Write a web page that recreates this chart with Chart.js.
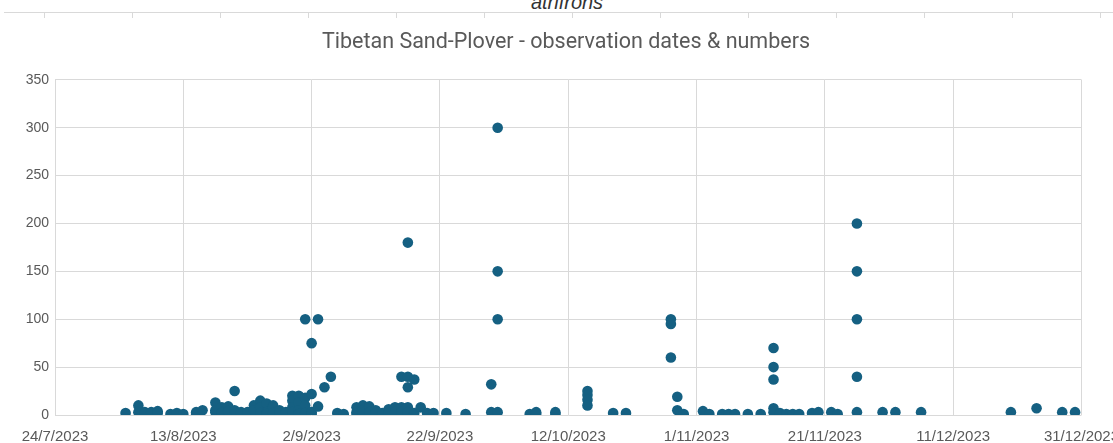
<!DOCTYPE html>
<html lang="en">
<head>
    <meta charset="UTF-8">
    <title>Tibetan Sand-Plover</title>
    <script src="https://cdn.jsdelivr.net/npm/chart.js"></script>
    <style>
        body {
            margin: 0;
            padding: 0;
            background: #ffffff;
            overflow: hidden;
            width: 1113px;
            height: 443px;
            position: relative;
            font-family: 'Liberation Sans', Arial, sans-serif;
        }
        /* bit of the chart above, cut off at the top */
        .prev-title {
            position: absolute;
            top: -8px;
            left: 0;
            width: 1134px;
            text-align: center;
            font-style: italic;
            font-size: 20px;
            line-height: 20px;
            color: #333;
        }
        .prev-axis {
            position: absolute;
            top: 12px;
            left: 4px;
            width: 1109px;
            height: 5px;
            border-top: 1px solid #d9d9d9;
            background-image: repeating-linear-gradient(to right, transparent 0, transparent 40px, #d9d9d9 40px, #d9d9d9 41px, transparent 41px, transparent 88px);
        }
        .wrap {
            position: absolute;
            top: 0;
            left: 0;
            width: 1132px;
            height: 443px;
        }
    </style>
</head>
<body>
    <div class="prev-title">atrifrons</div>
    <div class="prev-axis"></div>
    <div class="wrap"><canvas id="grafica"></canvas></div>
    <script>
        // fechas de observación (d/m, 2023) y número de aves en cada una
        const obsDates = [
            '4/8', '6/8', '7/8', '8/8', '9/8', '11/8', '12/8', '13/8', '15/8', '16/8',
            '18/8', '19/8', '20/8', '21/8', '22/8', '23/8', '24/8', '25/8', '26/8', '27/8',
            '28/8', '29/8', '30/8', '31/8', '1/9', '2/9', '3/9', '4/9', '5/9', '6/9',
            '7/9', '9/9', '10/9', '11/9', '12/9', '13/9', '14/9', '15/9', '16/9', '17/9',
            '18/9', '19/9', '20/9', '21/9', '23/9', '26/9', '30/9', '1/10', '6/10', '7/10',
            '10/10', '15/10', '19/10', '21/10', '28/10', '29/10', '30/10', '2/11', '3/11', '5/11',
            '6/11', '7/11', '9/11', '11/11', '13/11', '14/11', '15/11', '16/11', '17/11', '19/11',
            '20/11', '22/11', '23/11', '26/11', '30/11', '2/12', '6/12', '20/12', '24/12', '28/12',
            '30/12'
        ];
        const birdCounts = [
            [2], [10, 3], [3, 2], [3], [4, 2], [1], [2], [1], [3, 1], [5],
            [13, 3, 5], [8, 3, 2], [9, 4], [25, 5], [3], [3], [10, 5], [15, 8, 2], [12, 3, 1], [10, 8, 2],
            [5, 2], [3], [20, 15, 8, 3], [20, 13, 5, 1], [100, 18, 10, 2], [75, 22, 3, 1], [100, 9], [29], [40], [2],
            [1], [8, 3, 1], [10, 5, 2], [9, 3], [5, 2], [2], [6, 2], [8, 3], [40, 8, 3], [180, 40, 29, 8, 3],
            [37, 2], [8], [2], [2], [2], [1], [32, 3], [300, 150, 100, 3], [1], [3, 1],
            [3, 1], [25, 21, 16, 10], [2], [2], [100, 95, 60], [19, 5], [1], [4], [1], [1],
            [1], [1], [1], [1], [70, 50, 37, 7, 3], [2, 1], [1], [1], [1], [2],
            [3], [3], [1], [200, 150, 100, 40, 3], [3], [3], [3], [3], [7], [3],
            [3]
        ];
        const chartTitle = 'Tibetan Sand-Plover - observation dates & numbers';
        const startDate = '24/7';
        const endDate = '31/12';
        const daysPerTick = 20;

        const DAY = 86400000;
        function dayNumber(s) {
            const p = s.split('/');
            return (Date.UTC(2023, +p[1] - 1, +p[0]) - Date.UTC(2023, 6, 24)) / DAY;
        }
        function dayLabel(n) {
            const d = new Date(Date.UTC(2023, 6, 24) + n * DAY);
            return d.getUTCDate() + '/' + (d.getUTCMonth() + 1) + '/' + d.getUTCFullYear();
        }

        const puntos = [];
        obsDates.forEach((f, i) => {
            birdCounts[i].forEach(v => puntos.push({ x: dayNumber(f), y: v }));
        });

        const gris = '#595959';
        const rejilla = '#d9d9d9';

        new Chart(document.getElementById('grafica'), {
            type: 'scatter',
            data: {
                datasets: [{
                    data: puntos,
                    backgroundColor: '#156082',
                    borderColor: '#156082',
                    pointRadius: 5.3,
                    borderWidth: 0
                }]
            },
            options: {
                responsive: true,
                maintainAspectRatio: false,
                animation: false,
                layout: { padding: 0 },
                plugins: {
                    legend: { display: false },
                    tooltip: { enabled: false },
                    title: {
                        display: true,
                        text: chartTitle,
                        color: gris,
                        font: { family: 'Roboto', size: 21.5, weight: 'normal' },
                        padding: { top: 30, bottom: 24 }
                    }
                },
                scales: {
                    x: {
                        type: 'linear',
                        min: dayNumber(startDate),
                        max: dayNumber(endDate),
                        ticks: {
                            stepSize: daysPerTick,
                            color: gris,
                            font: { family: 'Liberation Sans', size: 15 },
                            padding: 13,
                            maxRotation: 0,
                            callback: v => dayLabel(v)
                        },
                        grid: { color: rejilla, drawTicks: false },
                        border: { display: false },
                        afterFit: s => { s.height = 28; }
                    },
                    y: {
                        min: 0,
                        max: 350,
                        ticks: {
                            stepSize: 50,
                            color: gris,
                            font: { family: 'Liberation Sans', size: 14 },
                            padding: 6
                        },
                        grid: { color: rejilla, drawTicks: false },
                        border: { display: false },
                        afterFit: s => { s.width = 55; }
                    }
                }
            }
        });
    </script>
</body>
</html>
